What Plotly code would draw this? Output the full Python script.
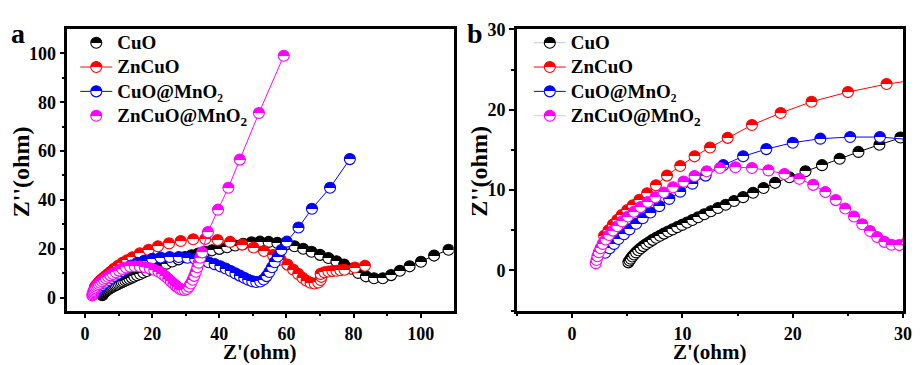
import plotly.graph_objects as go

# ---------------- data ----------------
series_names = ["CuO", "ZnCuO", "CuO@MnO₂", "ZnCuO@MnO<sub>2</sub>"]
series_colors = ["#000000", "#ff0000", "#0000ff", "#ff00ff"]

cuo_x = [5.10, 5.20, 5.32, 5.46, 5.62, 5.80, 6.00, 6.22, 6.46, 6.72, 7.00, 7.30, 7.62, 7.96,
         8.32, 8.70, 9.10, 9.52, 9.96, 10.42, 10.90, 11.42, 11.98, 12.58, 13.22, 13.92, 14.68,
         15.50, 16.40, 17.35, 18.40, 19.70, 21.15, 22.65, 24.25, 25.95, 27.85, 29.75, 31.7,
         33.7, 35.7, 37.8, 40.0, 42.3, 44.7, 47.1, 49.6, 52.1, 54.7, 57.3, 59.9, 62.4, 65.0,
         67.5, 70.0, 72.5, 74.9, 77.2, 79.3, 81.4, 83.7, 86.1, 88.7, 91.2, 93.8, 96.7, 100.1,
         104.0, 108.3]
cuo_y = [1.00, 1.22, 1.46, 1.72, 1.98, 2.24, 2.50, 2.76, 3.02, 3.28, 3.54, 3.80, 4.06, 4.32,
         4.58, 4.84, 5.10, 5.38, 5.66, 5.96, 6.28, 6.62, 6.98, 7.36, 7.76, 8.18, 8.64,
         9.12, 9.66, 10.25, 10.90, 11.60, 12.35, 13.10, 13.90, 14.75, 15.65, 16.55, 17.35,
         18.05, 18.75, 19.35, 19.95, 20.6, 21.3, 22.0, 22.6, 22.9, 22.8, 22.4, 21.8, 21.0, 20.0,
         18.8, 17.5, 16.2, 14.9, 13.5, 11.8, 10.1, 8.7, 7.9, 7.9, 9.2, 11.0, 12.8, 14.7,
         17.2, 19.6]

zncuo_x = [2.90, 3.30, 3.70, 4.10, 4.50, 5.00, 5.50, 6.10, 6.80, 7.60, 8.60, 9.80, 11.10,
           12.50, 14.10, 16.30, 18.90, 21.70, 25.00, 28.50, 32.2, 35.8, 39.5, 43.2, 46.8, 50.2,
           53.3, 56.0, 58.3, 60.3, 62.0, 63.5, 64.8, 66.0, 67.2, 68.4, 69.5, 70.2, 70.4, 70.2,
           71.3, 72.5, 73.7, 74.9, 76.1, 77.3, 80.4, 83.4]
zncuo_y = [4.30, 5.00, 5.70, 6.30, 6.90, 7.50, 8.10, 8.80, 9.60, 10.60, 11.80, 13.00, 14.20,
           15.30, 16.50, 18.10, 19.60, 21.00, 22.20, 23.20, 23.9, 24.0, 23.6, 22.8, 21.7, 20.5,
           19.1, 17.4, 15.5, 13.5, 11.5, 9.7, 8.1, 6.9, 6.1, 5.8, 6.2, 7.2, 8.5, 9.7,
           10.4, 10.7, 10.9, 11.0, 11.2, 11.4, 12.3, 13.0]

cuomno2_x = [3.00, 3.40, 3.80, 4.20, 4.70, 5.20, 5.80, 6.40, 7.10, 7.90, 8.80, 9.80, 10.90,
             12.10, 13.70, 15.50, 17.60, 20.00, 22.50, 25.20, 27.90, 30.5, 32.8, 34.9, 36.8,
             38.6, 40.3, 41.9, 43.4, 44.8, 46.1, 47.4, 48.6, 49.8, 51.0, 52.2, 53.2, 54.1, 54.9,
             55.7, 56.5, 57.4, 58.5, 60.1, 63.6, 67.6, 73.0, 78.9]
cuomno2_y = [2.20, 2.75, 3.30, 3.90, 4.50, 5.10, 5.80, 6.50, 7.20, 8.00, 8.90, 9.80, 10.80,
             11.80, 13.10, 14.20, 15.10, 15.90, 16.40, 16.60, 16.60, 16.3, 15.8, 15.2, 14.5,
             13.7, 12.8, 11.9, 10.9, 9.9, 9.0, 8.1, 7.3, 6.7, 6.4, 6.6, 7.4, 8.8, 10.5,
             12.4, 14.5, 16.8, 19.5, 22.9, 28.7, 36.4, 45.0, 56.7]

zncuomno2_x = [2.15, 2.22, 2.30, 2.42, 2.58, 2.78, 3.05, 3.35, 3.70, 4.10, 4.55, 5.05, 5.60,
               6.20, 6.85, 7.55, 8.30, 9.15, 10.10, 11.10, 12.20, 13.40, 14.80, 16.30, 17.80,
               19.25, 20.60, 21.85, 22.95, 23.90, 24.75, 25.55, 26.30, 27.00, 27.65, 28.30,
               28.95, 29.65, 30.35, 30.95, 31.50, 32.05, 32.55, 33.00, 33.45, 33.85, 34.30,
               34.90, 36.60, 39.60, 42.70, 46.10, 51.80, 59.20]
zncuomno2_y = [0.90, 1.30, 1.75, 2.25, 2.75, 3.30, 3.85, 4.40, 4.95, 5.50, 6.10, 6.70, 7.30,
               7.90, 8.50, 9.10, 9.70, 10.35, 11.05, 11.75, 12.35, 12.75, 12.85, 12.75, 12.45,
               12.00, 11.40, 10.65, 9.75, 8.75, 7.70, 6.70, 5.75, 4.90, 4.15, 3.55,
               3.20, 3.15, 3.55, 4.50, 5.80, 7.30, 8.90, 10.60, 12.40, 14.30, 16.30,
               18.50, 26.80, 36.00, 45.00, 56.50, 75.60, 99.00]

series_x = [cuo_x, zncuo_x, cuomno2_x, zncuomno2_x]
series_y = [cuo_y, zncuo_y, cuomno2_y, zncuomno2_y]

panel_a_xticks = [0, 20, 40, 60, 80, 100]
panel_a_yticks = [0, 20, 40, 60, 80, 100]
panel_b_ticks = [0, 10, 20, 30]

# legend line visibility per panel (as in the picture)
legend_a_modes = ["markers", "lines+markers", "lines+markers", "markers"]
legend_b_line_colors = ["#c8c8c8", "#ff0000", "#0000ff", "#ffb0ff"]

# ---------------- figure ----------------
W, H = 924, 365
FONT = "Liberation Serif"

fig = go.Figure()


def marker_style(col, size=11):
    return dict(symbol="circle", size=size, color=col,
                line=dict(color=col, width=1.1),
                gradient=dict(type="vertical", color="white"))


def legend_label(name):
    return '<span style="font-size:19px">' + name + '</span>'


for xa, ya in [("x", "y"), ("x2", "y2")]:
    for name, xs, ys, col in zip(series_names, series_x, series_y, series_colors):
        fig.add_trace(go.Scatter(
            x=xs, y=ys, xaxis=xa, yaxis=ya, mode="lines+markers", name=name,
            line=dict(color=col, width=1), marker=marker_style(col),
            showlegend=False, hoverinfo="skip"))

# legend-only entries
for i, (name, col) in enumerate(zip(series_names, series_colors)):
    fig.add_trace(go.Scatter(
        x=[None], y=[None], xaxis="x", yaxis="y", mode=legend_a_modes[i],
        name=legend_label(name),
        line=dict(color=col, width=1), marker=marker_style(col), legend="legend"))
for i, (name, col) in enumerate(zip(series_names, series_colors)):
    fig.add_trace(go.Scatter(
        x=[None], y=[None], xaxis="x2", yaxis="y2", mode="lines+markers",
        name=legend_label(name),
        line=dict(color=legend_b_line_colors[i], width=1), marker=marker_style(col),
        legend="legend2"))

tickfont = dict(family=FONT, size=18, color="black", weight="bold")


def axis(domain, rng, ticks, minor_dtick, anchor):
    return dict(domain=domain, range=rng, anchor=anchor, tickvals=ticks,
                showline=True, linewidth=2.5, linecolor="black", mirror=True,
                ticks="outside", ticklen=5, tickwidth=2, tickcolor="black",
                minor=dict(dtick=minor_dtick, tick0=0, ticks="outside", ticklen=3,
                           tickwidth=1.5, tickcolor="black"),
                showgrid=False, zeroline=False, tickfont=tickfont,
                ticklabelstandoff=0)


ydom = [1 - 309 / H, 1 - 20 / H]
legend_font = dict(family=FONT, size=16.4, color="black", weight="bold")
fig.update_layout(
    width=W, height=H, margin=dict(l=0, r=0, t=0, b=0),
    paper_bgcolor="white", plot_bgcolor="white",
    xaxis=axis([68 / W, 458 / W], [-5.3, 109.8], panel_a_xticks, 10, "y"),
    yaxis=axis(ydom, [-5.3, 109.8], panel_a_yticks, 10, "x"),
    xaxis2=axis([522 / W, 912 / W], [-5, 30], panel_b_ticks, 5, "y2"),
    yaxis2=axis(ydom, [-5, 30], panel_b_ticks, 5, "x2"),
    legend=dict(x=76 / W, y=1 - 16 / H, xanchor="left", yanchor="top",
                bgcolor="rgba(0,0,0,0)", itemwidth=32, font=legend_font),
    legend2=dict(x=534 / W, y=1 - 16 / H, xanchor="left", yanchor="top",
                 bgcolor="rgba(0,0,0,0)", itemwidth=32, font=legend_font),
    showlegend=True,
)

xt_font = dict(family=FONT, size=21, color="black", weight="bold")
yt_font = dict(family=FONT, size=24, color="black", weight="bold")
lab_font = dict(family=FONT, size=28, color="black", weight="bold")
annotations = [
    dict(text="a", x=18 / W, y=1 - 24 / H, font=lab_font),
    dict(text="b", x=480 / W, y=1 - 24 / H, font=lab_font),
    dict(text="Z'(ohm)", x=263 / W, y=1 - 352 / H, font=xt_font),
    dict(text="Z'(ohm)", x=717 / W, y=1 - 352 / H, font=xt_font),
    dict(text="Z''(ohm)", x=22 / W, y=1 - 166 / H, textangle=-90, font=yt_font),
    dict(text="Z''(ohm)", x=484 / W, y=1 - 166 / H, textangle=-90, font=yt_font),
]
for a in annotations:
    a.update(xref="paper", yref="paper", showarrow=False, xanchor="center", yanchor="middle")
fig.update_layout(annotations=annotations)

post = """
function halfFill(){
  var gs = document.querySelectorAll('linearGradient');
  gs.forEach(function(g){
    if(g.getAttribute('data-half')) return;
    var st = Array.prototype.slice.call(g.querySelectorAll('stop'));
    if(st.length !== 2) return;
    st.sort(function(a,b){return parseFloat(a.getAttribute('offset'))-parseFloat(b.getAttribute('offset'));});
    var a2 = st[0].cloneNode(true); a2.setAttribute('offset','50%');
    var b2 = st[1].cloneNode(true); b2.setAttribute('offset','50%');
    g.insertBefore(a2, st[1]); g.insertBefore(b2, st[1]);
    g.setAttribute('data-half','1');
  });
}
halfFill();
var gd = document.getElementById('{plot_id}');
if (gd && gd.on) { gd.on('plotly_afterplot', halfFill); }
setTimeout(halfFill, 30); setTimeout(halfFill, 200);
"""

fig.write_html("out.html", post_script=post)
